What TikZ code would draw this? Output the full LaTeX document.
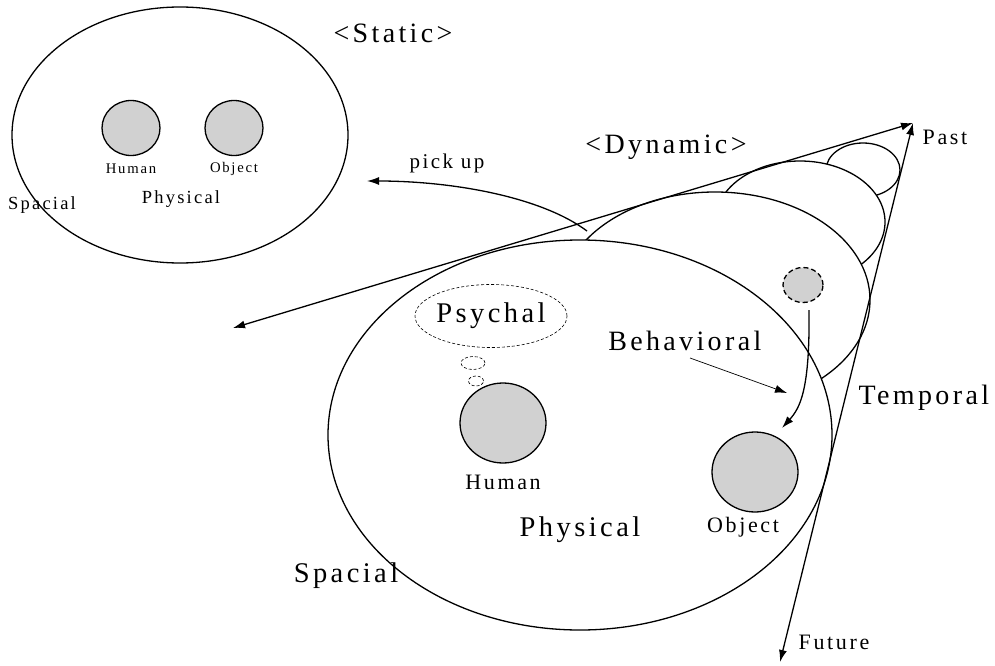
\documentclass[tikz,border=0pt]{standalone}
\usepackage{fontspec}
\setmainfont{Liberation Serif}[LetterSpace=12]
\usetikzlibrary{arrows.meta,shapes.geometric}
\begin{document}
\begin{tikzpicture}[x=1pt,y=-1pt,
  line width=1.3pt,
  lbl/.style={inner sep=0pt,font=\fontsize{#1}{#1}\selectfont},
  lbl/.default=28,
  disc/.style={draw,fill=black!18,line width=1.3pt,ellipse,inner sep=0pt},
  bubble/.style={draw,dash pattern=on 3pt off 2pt,line width=0.6pt,ellipse,inner sep=0pt},
  tip/.style={-{Latex[length=12pt,width=8pt]}},
  bothtips/.style={{Latex[length=12pt,width=8pt]}-{Latex[length=12pt,width=8pt]}},
  layer/.style={draw,fill=white}]
\useasboundingbox (0,0) rectangle (995,666);

% ---- static view ----
\draw (180,135) ellipse [x radius=168,y radius=128];
\node[disc,minimum width=58pt,minimum height=55pt] (sh) at (131,128) {};
\node[disc,minimum width=58pt,minimum height=55pt] (so) at (234,128) {};
\node[lbl=14.7] (shl) at (131,169) {Human};
\node[lbl=14.7] (sol) at (234,169) {Object};
\node[lbl=18.5] (sphys) at (181,199) {Physical};
\node[lbl=18.5] (sspac) at (42,205) {Spacial};
\node[lbl=28] (stat) at (393,33) {<Static>};

% ---- dynamic view: nested time slices, back to front ----
\draw[layer] (863,170) ellipse [x radius=37,y radius=27];
\draw[layer] (800,222) ellipse [x radius=85,y radius=61];
\draw[layer] (715,300) ellipse [x radius=155,y radius=108];
\draw[layer] (580,435) ellipse [x radius=252,y radius=195];

\node[lbl=28] (dyn) at (666,147) {<Dynamic>};

% cone axes
\coordinate (apex) at (913,123);
\coordinate (spfar) at (233,328);
\coordinate (fut) at (780,662);
\draw[bothtips] (spfar) -- (apex);
\draw[bothtips] (fut) -- (apex);
\node[lbl=22,anchor=west] (past) at (922,137) {Past};
\node[lbl=22,anchor=west] (futl) at (798,642) {Future};
\node[lbl=28,anchor=west] (temp) at (858,398) {Temporal};

% pick up
\coordinate (pk) at (587,231);
\coordinate (pkend) at (367,181);
\draw[tip] (pk) .. controls (540,196) and (450,181) .. (pkend);
\node[lbl=21] (pick) at (447,163) {pick up};

% contents of the front slice
\node[bubble,minimum width=152pt,minimum height=63pt] (psy) at (491,316) {};
\node[lbl=28.5] (psyl) at (psy) {Psychal};
\node[bubble,minimum width=24pt,minimum height=13pt] (b1) at (473,363) {};
\node[bubble,minimum width=15pt,minimum height=10pt] (b2) at (476,381) {};

\node[disc,minimum width=86pt,minimum height=80pt] (hum) at (503,423) {};
\node[lbl=22] (huml) at (503,482) {Human};

\node[disc,minimum width=86pt,minimum height=80pt] (obj) at (755,472) {};
\node[lbl=22] (objl) at (743,527) {Object};

\node[disc,dash pattern=on 5pt off 3pt,minimum width=40pt,minimum height=35pt] (ghost) at (803,285) {};
\draw[tip] (ghost.south) ++(6,7) coordinate (gs) .. controls (810,390) and (800,408) .. (782,428) coordinate (ge);

\node[lbl=28,anchor=east] (beh) at (762,341) {Behavioral};
\coordinate (bs) at (690,358);
\coordinate (be) at (787,393);
\draw[tip,line width=0.7pt] (bs) -- (be);

\node[lbl=28.5] (dphys) at (580,530) {Physical};
\node[lbl=28.5] (dspac) at (346,576) {Spacial};
\end{tikzpicture}
\end{document}
